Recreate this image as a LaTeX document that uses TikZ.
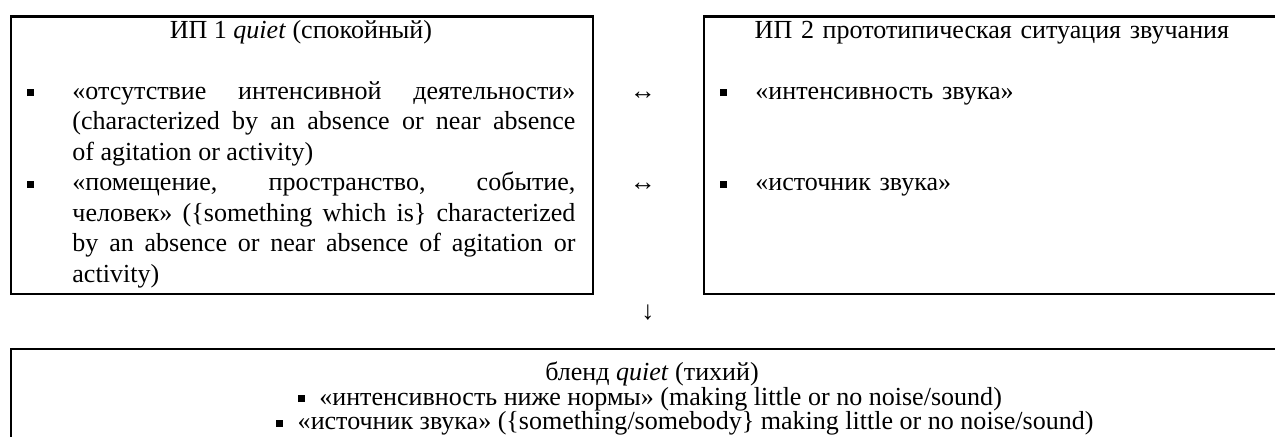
\documentclass[tikz,border=0pt]{standalone}
\usepackage{fontspec}
\setmainfont{Liberation Serif}
\usepackage{tikz}

\newcommand\sqbullet{\rule[1.6pt]{3.2pt}{3.2pt}}
\newcommand\sqitem[2][26.4pt]{\par\noindent\hangindent=#1\hangafter=1\makebox[#1][l]{\hspace{4.65pt}\sqbullet}#2\par}

\begin{document}
\begin{tikzpicture}[x=0.48pt, y=-0.48pt,
  frame/.style={draw, line width=1pt, inner sep=0pt, anchor=north west},
  txt/.style={inner sep=0pt, font=\fontsize{12.5}{14.64}\selectfont}]
 \useasboundingbox (0,0) rectangle (1275,437);
 \clip (0,0) rectangle (1275,437);
  \node[frame, minimum width=279.6pt, minimum height=133.2pt] (ip1) at (9.5,15.5) {};
  \node[frame, minimum width=286.56pt, minimum height=133.2pt] (ip2) at (703,15.5) {};
  \node[frame, minimum width=619.44pt, minimum height=58.56pt] (blend) at (9.5,348) {};
  \node[txt, text width=267.84pt, align=justify, anchor=north west] (ip1text) at (17,16.65) {%
   {\centering\hspace*{4.3pt}\strut ИП 1 \textit{quiet} (спокойный)\par}
   \mbox{}\par
   \sqitem{«отсутствие интенсивной деятельности»\linebreak (characterized by an absence or near absence\linebreak of agitation or activity)}
   \sqitem{«помещение, пространство, событие,\linebreak человек» (\{something which is\} characterized\linebreak by an absence or near absence of agitation or\linebreak activity)}};
  \node[txt, text width=270.24pt, anchor=north west] (ip2text) at (710,16.65) {%
   {\centering\strut ИП 2 прототипическая ситуация звучания\par}
   \mbox{}\par
   \sqitem[21.6pt]{«интенсивность звука»}
   \mbox{}\par\mbox{}\par
   \sqitem[21.6pt]{«источник звука»}};
  \node[txt, anchor=base] (blendtitle) at (652,381) {бленд \textit{quiet} (тихий)};
  \node[txt, anchor=base] (blend1) at (650,405.5) {\sqbullet\hspace{7pt}«интенсивность ниже нормы» (making little or no noise/sound)};
  \node[txt, anchor=base] (blend2) at (685,430) {\sqbullet\hspace{7pt}«источник звука» (\{something/somebody\} making little or no noise/sound)};
 \foreach \y/\n in {100/1, 190.5/2}
   \node[txt, anchor=base] (link\n) at (643,\y) {↔};
  \node[txt] (down) at (648,313) {↓};
\end{tikzpicture}
\end{document}
